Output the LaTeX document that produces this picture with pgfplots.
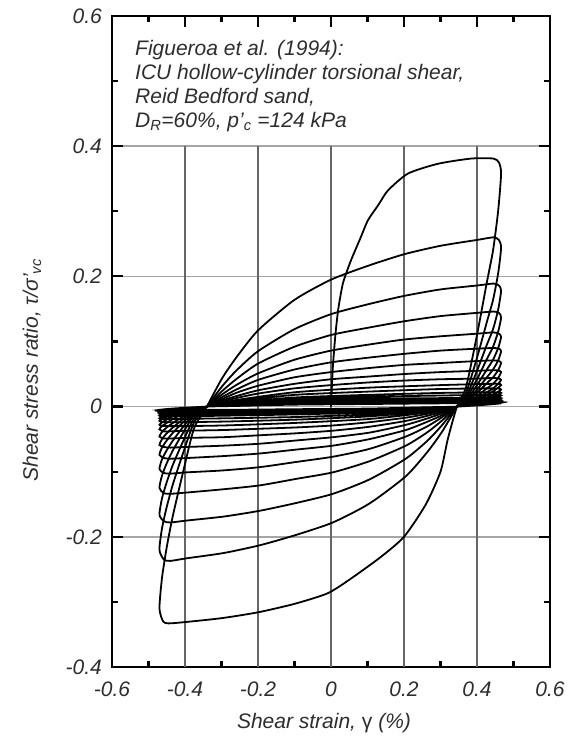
\documentclass[border=0pt]{standalone}
\usepackage{fontspec}
\setmainfont{Liberation Sans}
\usepackage{pgfplots}
\pgfplotsset{compat=1.18}
\definecolor{txt}{RGB}{45,45,45}
\pgfplotsset{loop/.style={black, solid, line width=1.8pt, mark=none, smooth, tension=0.4}}
\begin{document}
\fontsize{21}{24}\selectfont
\begin{tikzpicture}
\begin{axis}[
  at={(0,0)}, anchor=south west,
  width=438pt, height=651pt, scale only axis,
  xmin=-0.6, xmax=0.6, ymin=-0.4, ymax=0.6,
  xtick={-0.6,-0.4,-0.2,0,0.2,0.4,0.6},
  ytick={-0.4,-0.2,0,0.2,0.4,0.6},
  minor x tick num=1, minor y tick num=1,
  tick align=inside,
  major tick length=11pt, minor tick length=6pt,
  every tick/.style={black, line width=2.2pt},
  axis line style={line width=2.8pt},
  ymajorgrids,
  y grid style={black!35, line width=1.6pt},
  ticklabel style={font=\fontsize{21}{24}\selectfont\itshape, text=txt},
  /pgf/number format/assume math mode=true,
  yticklabel style={xshift=-3pt},
  xticklabel style={yshift=-8pt},
  xlabel={Shear strain, \textup{γ} (\%)},
  ylabel={Shear stress ratio, τ/σ'\textsubscript{vc}},
  label style={font=\fontsize{21}{24}\selectfont\itshape, text=txt},
  xlabel style={at={([yshift=-61pt]axis description cs:0.484,0)}, anchor=base},
  ylabel style={at={([xshift=-74pt]axis description cs:0,0.456)}, anchor=base},
]
\foreach \gx in {-0.4,-0.2,0,0.2,0.4} {
  \edef\tmp{\noexpand\draw[black!60, line width=1.3pt] (axis cs:\gx,-0.4) -- (axis cs:\gx,0.4);}
  \tmp
}
% cycle 1
\addplot[loop] coordinates {(0,0) (0.005,0.06) (0.012,0.11) (0.02,0.15) (0.033,0.19) (0.055,0.225) (0.08,0.258) (0.101,0.286) (0.13,0.31) (0.156,0.332) (0.211,0.358) (0.293,0.373) (0.384,0.381) (0.445,0.381) (0.46,0.375)
(0.466,0.358) (0.458,0.301) (0.444,0.240) (0.427,0.191) (0.40,0.110) (0.37,0.030) (0.345,0)
(0.32,-0.050) (0.30,-0.100) (0.26,-0.150) (0.20,-0.200) (0.134,-0.232) (0.05,-0.266) (-0.01,-0.287) (-0.10,-0.303) (-0.20,-0.316) (-0.30,-0.325) (-0.40,-0.331) (-0.445,-0.333) (-0.46,-0.330)
(-0.47,-0.310) (-0.463,-0.263) (-0.45,-0.216) (-0.433,-0.167) (-0.405,-0.100) (-0.375,-0.033) (-0.34,0)};
% cycle 2
\addplot[loop] coordinates {(-0.34,0) (-0.30,0.042) (-0.26,0.075) (-0.20,0.117) (-0.10,0.164) (0,0.195) (0.10,0.216) (0.20,0.234) (0.30,0.247) (0.40,0.256) (0.445,0.260) (0.46,0.256)
(0.466,0.244) (0.458,0.205) (0.444,0.164) (0.427,0.130) (0.40,0.075) (0.37,0.021) (0.345,0)
(0.305,-0.038) (0.265,-0.069) (0.205,-0.107) (0.105,-0.149) (0.005,-0.178) (-0.095,-0.197) (-0.195,-0.213) (-0.295,-0.225) (-0.395,-0.233) (-0.44,-0.237) (-0.458,-0.235)
(-0.47,-0.220) (-0.463,-0.187) (-0.45,-0.154) (-0.433,-0.119) (-0.405,-0.071) (-0.375,-0.024) (-0.34,0)};
% cycle 3
\addplot[loop] coordinates {(-0.34,0) (-0.30,0.030) (-0.26,0.055) (-0.20,0.085) (-0.10,0.119) (0,0.142) (0.10,0.157) (0.20,0.170) (0.30,0.180) (0.40,0.186) (0.445,0.189) (0.46,0.186)
(0.466,0.178) (0.458,0.149) (0.444,0.119) (0.427,0.095) (0.40,0.055) (0.37,0.015) (0.345,0)
(0.305,-0.028) (0.265,-0.052) (0.205,-0.080) (0.105,-0.112) (0.005,-0.134) (-0.095,-0.148) (-0.195,-0.160) (-0.295,-0.169) (-0.395,-0.175) (-0.44,-0.178) (-0.458,-0.176)
(-0.47,-0.166) (-0.463,-0.141) (-0.45,-0.116) (-0.433,-0.089) (-0.405,-0.053) (-0.375,-0.018) (-0.34,0)};
% cycle 4
\addplot[loop] coordinates {(-0.34,0) (-0.30,0.023) (-0.26,0.042) (-0.20,0.066) (-0.10,0.092) (0,0.110) (0.10,0.121) (0.20,0.131) (0.30,0.139) (0.40,0.144) (0.445,0.146) (0.46,0.144)
(0.466,0.137) (0.458,0.115) (0.444,0.092) (0.427,0.073) (0.40,0.042) (0.37,0.012) (0.345,0)
(0.305,-0.021) (0.265,-0.039) (0.205,-0.060) (0.105,-0.084) (0.005,-0.101) (-0.095,-0.111) (-0.195,-0.121) (-0.295,-0.127) (-0.395,-0.132) (-0.44,-0.134) (-0.458,-0.133)
(-0.47,-0.125) (-0.463,-0.106) (-0.45,-0.087) (-0.433,-0.067) (-0.405,-0.040) (-0.375,-0.013) (-0.34,0)};
% cycle 5
\addplot[loop] coordinates {(-0.34,0) (-0.30,0.018) (-0.26,0.033) (-0.20,0.051) (-0.10,0.072) (0,0.086) (0.10,0.095) (0.20,0.103) (0.30,0.108) (0.40,0.112) (0.445,0.114) (0.46,0.112)
(0.466,0.107) (0.458,0.090) (0.444,0.072) (0.427,0.057) (0.40,0.033) (0.37,0.009) (0.345,0)
(0.305,-0.016) (0.265,-0.030) (0.205,-0.046) (0.105,-0.065) (0.005,-0.077) (-0.095,-0.085) (-0.195,-0.093) (-0.295,-0.098) (-0.395,-0.101) (-0.44,-0.103) (-0.458,-0.102)
(-0.47,-0.096) (-0.463,-0.081) (-0.45,-0.067) (-0.433,-0.052) (-0.405,-0.031) (-0.375,-0.010) (-0.34,0)};
% cycle 6
\addplot[loop] coordinates {(-0.34,0) (-0.30,0.014) (-0.26,0.026) (-0.20,0.041) (-0.10,0.057) (0,0.068) (0.10,0.075) (0.20,0.081) (0.30,0.086) (0.40,0.089) (0.445,0.090) (0.46,0.089)
(0.466,0.085) (0.458,0.071) (0.444,0.057) (0.427,0.045) (0.40,0.026) (0.37,0.007) (0.345,0)
(0.305,-0.013) (0.265,-0.023) (0.205,-0.036) (0.105,-0.050) (0.005,-0.060) (-0.095,-0.066) (-0.195,-0.072) (-0.295,-0.076) (-0.395,-0.079) (-0.44,-0.080) (-0.458,-0.079)
(-0.47,-0.074) (-0.463,-0.063) (-0.45,-0.052) (-0.433,-0.040) (-0.405,-0.024) (-0.375,-0.008) (-0.34,0)};
% cycle 7
\addplot[loop] coordinates {(-0.34,0) (-0.30,0.011) (-0.26,0.021) (-0.20,0.032) (-0.10,0.045) (0,0.053) (0.10,0.059) (0.20,0.064) (0.30,0.067) (0.40,0.070) (0.445,0.071) (0.46,0.070)
(0.466,0.067) (0.458,0.056) (0.444,0.045) (0.427,0.036) (0.40,0.021) (0.37,0.006) (0.345,0)
(0.305,-0.010) (0.265,-0.018) (0.205,-0.028) (0.105,-0.040) (0.005,-0.047) (-0.095,-0.052) (-0.195,-0.057) (-0.295,-0.060) (-0.395,-0.062) (-0.44,-0.063) (-0.458,-0.062)
(-0.47,-0.059) (-0.463,-0.050) (-0.45,-0.041) (-0.433,-0.032) (-0.405,-0.019) (-0.375,-0.006) (-0.34,0)};
% cycle 8
\addplot[loop] coordinates {(-0.34,0) (-0.30,0.009) (-0.26,0.016) (-0.20,0.025) (-0.10,0.035) (0,0.042) (0.10,0.046) (0.20,0.050) (0.30,0.053) (0.40,0.055) (0.445,0.056) (0.46,0.055)
(0.466,0.053) (0.458,0.044) (0.444,0.035) (0.427,0.028) (0.40,0.016) (0.37,0.004) (0.345,0)
(0.305,-0.008) (0.265,-0.014) (0.205,-0.022) (0.105,-0.031) (0.005,-0.037) (-0.095,-0.041) (-0.195,-0.044) (-0.295,-0.047) (-0.395,-0.048) (-0.44,-0.049) (-0.458,-0.049)
(-0.47,-0.046) (-0.463,-0.039) (-0.45,-0.032) (-0.433,-0.025) (-0.405,-0.015) (-0.375,-0.005) (-0.34,0)};
% cycle 9
\addplot[loop] coordinates {(-0.34,0) (-0.30,0.007) (-0.26,0.013) (-0.20,0.020) (-0.10,0.028) (0,0.033) (0.10,0.037) (0.20,0.040) (0.30,0.042) (0.40,0.043) (0.445,0.044) (0.46,0.043)
(0.466,0.041) (0.458,0.035) (0.444,0.028) (0.427,0.022) (0.40,0.013) (0.37,0.004) (0.345,0)
(0.305,-0.006) (0.265,-0.011) (0.205,-0.017) (0.105,-0.024) (0.005,-0.029) (-0.095,-0.032) (-0.195,-0.034) (-0.295,-0.036) (-0.395,-0.037) (-0.44,-0.038) (-0.458,-0.038)
(-0.47,-0.035) (-0.463,-0.030) (-0.45,-0.025) (-0.433,-0.019) (-0.405,-0.011) (-0.375,-0.004) (-0.34,0)};
% cycles 10-19
\addplot[loop] coordinates {(-0.34,0)
(-0.26,0.010) (-0.10,0.022) (0.10,0.029) (0.30,0.033) (0.445,0.035) (0.466,0.033) (0.427,0.018) (0.345,0)
(0.265,-0.009) (0.105,-0.019) (-0.095,-0.025) (-0.295,-0.029) (-0.44,-0.030) (-0.47,-0.028) (-0.433,-0.015) (-0.34,0)
(-0.26,0.008) (-0.10,0.018) (0.10,0.023) (0.30,0.027) (0.445,0.028) (0.466,0.026) (0.427,0.014) (0.345,0)
(0.265,-0.007) (0.105,-0.015) (-0.095,-0.020) (-0.295,-0.023) (-0.44,-0.024) (-0.47,-0.022) (-0.433,-0.012) (-0.34,0)
(-0.26,0.006) (-0.10,0.014) (0.10,0.018) (0.30,0.021) (0.445,0.022) (0.466,0.021) (0.427,0.011) (0.345,0)
(0.265,-0.006) (0.105,-0.012) (-0.095,-0.016) (-0.295,-0.018) (-0.44,-0.019) (-0.47,-0.018) (-0.433,-0.010) (-0.34,0)
(-0.26,0.005) (-0.10,0.011) (0.10,0.015) (0.30,0.017) (0.445,0.018) (0.466,0.017) (0.427,0.009) (0.345,0)
(0.265,-0.004) (0.105,-0.009) (-0.095,-0.012) (-0.295,-0.014) (-0.44,-0.015) (-0.47,-0.014) (-0.433,-0.008) (-0.34,0)
(-0.26,0.004) (-0.10,0.009) (0.10,0.012) (0.30,0.013) (0.445,0.014) (0.466,0.013) (0.427,0.007) (0.345,0)
(0.265,-0.003) (0.105,-0.008) (-0.095,-0.010) (-0.295,-0.011) (-0.44,-0.012) (-0.47,-0.011) (-0.433,-0.006) (-0.34,0)
(-0.26,0.003) (-0.10,0.007) (0.10,0.009) (0.30,0.010) (0.445,0.011) (0.466,0.010) (0.427,0.006) (0.345,0)
(0.265,-0.003) (0.105,-0.006) (-0.095,-0.008) (-0.295,-0.010) (-0.44,-0.010) (-0.47,-0.009) (-0.433,-0.005) (-0.34,0)
(-0.26,0.003) (-0.10,0.006) (0.10,0.007) (0.30,0.009) (0.445,0.009) (0.466,0.008) (0.427,0.005) (0.345,0)
(0.265,-0.002) (0.105,-0.005) (-0.095,-0.007) (-0.295,-0.008) (-0.44,-0.008) (-0.47,-0.007) (-0.433,-0.004) (-0.34,0)
(-0.26,0.002) (-0.10,0.004) (0.10,0.006) (0.30,0.007) (0.445,0.007) (0.466,0.007) (0.427,0.004) (0.345,0)
(0.265,-0.002) (0.105,-0.004) (-0.095,-0.006) (-0.295,-0.007) (-0.44,-0.007) (-0.47,-0.007) (-0.433,-0.004) (-0.34,0)
(-0.26,0.002) (-0.10,0.004) (0.10,0.005) (0.30,0.006) (0.445,0.006) (0.466,0.006) (0.427,0.003) (0.345,0)
(0.265,-0.002) (0.105,-0.004) (-0.095,-0.005) (-0.295,-0.006) (-0.44,-0.006) (-0.47,-0.006) (-0.433,-0.003) (-0.34,0)
(-0.26,0.001) (-0.10,0.003) (0.10,0.004) (0.30,0.005) (0.445,0.005) (0.466,0.005) (0.427,0.003) (0.345,0)
(0.265,-0.001) (0.105,-0.003) (-0.095,-0.004) (-0.295,-0.005) (-0.44,-0.005) (-0.47,-0.005) (-0.433,-0.003) (-0.34,0)};
\node[anchor=base west, inner sep=0, text=txt, font=\fontsize{21}{24}\selectfont\itshape] at (axis cs:-0.537,0.539) {Figueroa et al. (1994):};
\node[anchor=base west, inner sep=0, text=txt, font=\fontsize{21}{24}\selectfont\itshape] at (axis cs:-0.537,0.502) {ICU hollow-cylinder torsional shear,};
\node[anchor=base west, inner sep=0, text=txt, font=\fontsize{21}{24}\selectfont\itshape] at (axis cs:-0.537,0.465) {Reid Bedford sand,};
\node[anchor=base west, inner sep=0, text=txt, font=\fontsize{21}{24}\selectfont\itshape] at (axis cs:-0.537,0.4286) {D\textsubscript{R}=60\%, p'\textsubscript{c} =124 kPa};
\end{axis}
\pgfresetboundingbox
\path[use as bounding box] (-112pt,-70pt) rectangle (458pt,667pt);
\end{tikzpicture}
\end{document}
